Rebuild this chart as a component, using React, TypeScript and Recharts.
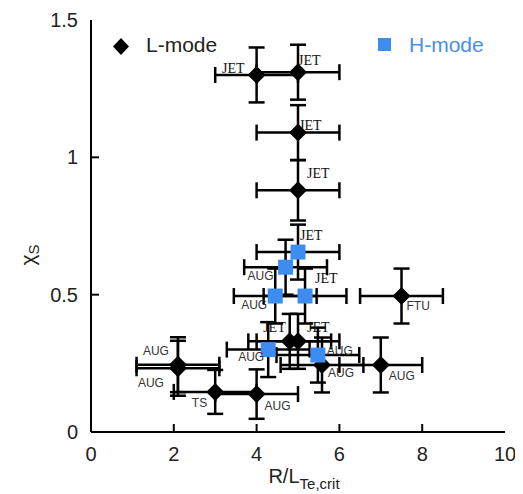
import { ScatterChart, Scatter, XAxis, YAxis, ErrorBar, Label } from 'recharts'

// L-mode points (black diamonds)
const lModeX = [4.0, 5.0, 5.0, 5.0, 4.8, 5.0, 7.5, 7.0, 5.58, 2.1, 2.1, 3.0, 4.0]
const lModeY = [1.3, 1.31, 1.09, 0.88, 0.33, 0.33, 0.495, 0.244, 0.244, 0.245, 0.232, 0.146, 0.138]
const lModeXErr = [1, 1, 1, 1, 1, 1, 1, 1, 1, 1, 1, 1, 1]
const lModeYErr = [0.1, 0.1, 0.1, 0.11, 0.1, 0.1, 0.1, 0.1, 0.1, 0.1, 0.1, 0.08, 0.09]
const lModeLabel = ['JET', 'JET', 'JET', 'JET', 'JET', 'JET', 'FTU', 'AUG', 'AUG', 'AUG', 'AUG', 'TS', 'AUG']

// H-mode points (blue squares)
const hModeX = [5.0, 4.7, 4.45, 5.17, 4.28, 5.48]
const hModeY = [0.655, 0.6, 0.495, 0.495, 0.3, 0.28]
const hModeXErr = [1, 1, 1, 1, 1, 1]
const hModeYErr = [0.1, 0.1, 0.1, 0.1, 0.1, 0.1]
const hModeLabel = ['JET', 'AUG', 'AUG', 'JET', 'AUG', 'AUG']

const xTicks = [0, 2, 4, 6, 8, 10]
const yTicks = [0, 0.5, 1, 1.5]

// label nudges in px from the marker centre (negative dx = right-aligned)
const lModeNudge = [[-12, -2], [0, -7], [1, -3], [9, -12], [-4, -9], [9, -9], [5, 14], [8, 15], [6, 12], [-9, -10], [-14, 19], [-8, 15], [8, 16]]
const hModeNudge = [[2, -12], [-12, 13], [-8, 13], [10, -13], [-4, 11], [9, 0]]

const BLUE = '#3d8cef'
const SANS = '"Liberation Sans", Arial, Helvetica, sans-serif'
const SERIF = '"Liberation Serif", "Times New Roman", serif'

const toRows = (xs: number[], ys: number[], exs: number[], eys: number[], labels: string[]) =>
  xs.map((x, i) => ({ x, y: ys[i], ex: exs[i], ey: eys[i], label: labels[i], i }))

const lModeData = toRows(lModeX, lModeY, lModeXErr, lModeYErr, lModeLabel)
const hModeData = toRows(hModeX, hModeY, hModeXErr, hModeYErr, hModeLabel)

const makeShape = (kind: 'diamond' | 'square', nudges: number[][]) => (props: any) => {
  const { cx, cy, payload } = props
  const [dx, dy] = nudges[payload.i]
  const serif = payload.label === 'JET'
  return (
    <g>
      {kind === 'diamond' ? (
        <polygon points={`${cx},${cy - 9} ${cx + 9},${cy} ${cx},${cy + 9} ${cx - 9},${cy}`} fill="#000" />
      ) : (
        <rect x={cx - 7.5} y={cy - 7.5} width={15} height={15} fill={BLUE} />
      )}
      <text
        x={cx + dx}
        y={cy + dy}
        textAnchor={dx < 0 ? 'end' : 'start'}
        fontFamily={serif ? SERIF : SANS}
        fontSize={serif ? 14 : 12}
        fill={serif ? '#111' : '#333'}
      >
        {payload.label}
      </text>
    </g>
  )
}

const BottomTick = (props: any) => {
  const { x, y, payload } = props
  const v = payload.value
  return (
    <g>
      {v !== 0 && v !== 10 && <line x1={x} y1={y} x2={x} y2={y - 8} stroke="#000" strokeWidth={2} />}
      <text x={x} y={y + 29} textAnchor="middle" fontFamily={SANS} fontSize={20} fill="#222">
        {v}
      </text>
    </g>
  )
}

const LeftTick = (props: any) => {
  const { x, y, payload } = props
  const v = payload.value
  return (
    <g>
      {v !== 0 && v !== 1.5 && <line x1={x} y1={y} x2={x + 8} y2={y} stroke="#000" strokeWidth={2} />}
      <text x={x - 13} y={y + 7} textAnchor="end" fontFamily={SANS} fontSize={20} fill="#222">
        {v}
      </text>
    </g>
  )
}

const TopTick = (props: any) => {
  const { x, y } = props
  return <line x1={x} y1={y} x2={x} y2={y + 8} stroke="#000" strokeWidth={2} />
}

const RightTick = (props: any) => {
  const { x, y } = props
  return <line x1={x} y1={y} x2={x - 8} y2={y} stroke="#000" strokeWidth={2} />
}

const XTitle = (props: any) => {
  const vb = props.viewBox
  return (
    <text x={vb.x + vb.width / 2 + 6} y={vb.y + 51} textAnchor="middle" fontFamily={SANS} fontSize={20} fill="#222">
      <tspan>R/L</tspan>
      <tspan fontSize={15} dy={6}>Te,crit</tspan>
    </text>
  )
}

const YTitle = () => (
  <text transform="translate(27,247) rotate(-90)" textAnchor="middle" fontFamily={SANS} fontSize={21} fill="#222">
    <tspan>χ</tspan>
    <tspan fontSize={15} dy={4}>S</tspan>
  </text>
)

export default function App() {
  return (
    <div style={{ position: 'relative', width: 515, height: 486 }}>
      <ScatterChart width={515} height={486} margin={{ top: 12, right: 18, bottom: 0, left: 0 }}>
        <XAxis
          dataKey="x"
          type="number"
          domain={[0, 10]}
          ticks={xTicks}
          height={62}
          tickSize={0}
          tickMargin={0}
          tickLine={false}
          axisLine={{ stroke: '#000', strokeWidth: 2 }}
          tick={<BottomTick />}
          interval={0}
        >
          <Label content={<XTitle />} />
        </XAxis>
        <XAxis
          xAxisId="top"
          orientation="top"
          type="number"
          domain={[0, 10]}
          ticks={[2, 4, 6, 8]}
          height={0}
          tickSize={0}
          tickMargin={0}
          tickLine={false}
          axisLine={{ stroke: '#000', strokeWidth: 2 }}
          tick={<TopTick />}
          interval={0}
        />
        <YAxis
          dataKey="y"
          type="number"
          domain={[0, 1.5]}
          ticks={yTicks}
          width={83}
          tickSize={0}
          tickMargin={0}
          tickLine={false}
          axisLine={{ stroke: '#000', strokeWidth: 2 }}
          tick={<LeftTick />}
          interval={0}
        >
          <Label content={<YTitle />} />
        </YAxis>
        <YAxis
          yAxisId="right"
          orientation="right"
          type="number"
          domain={[0, 1.5]}
          ticks={[0.5, 1]}
          width={0}
          tickSize={0}
          tickMargin={0}
          tickLine={false}
          axisLine={{ stroke: '#000', strokeWidth: 2 }}
          tick={<RightTick />}
          interval={0}
        />
        <Scatter data={lModeData} shape={makeShape('diamond', lModeNudge)} isAnimationActive={false}>
          <ErrorBar dataKey="ex" direction="x" width={8} stroke="#000" strokeWidth={2.5} />
          <ErrorBar dataKey="ey" direction="y" width={8} stroke="#000" strokeWidth={2.5} />
        </Scatter>
        <Scatter data={hModeData} shape={makeShape('square', hModeNudge)} isAnimationActive={false}>
          <ErrorBar dataKey="ex" direction="x" width={8} stroke="#000" strokeWidth={2.5} />
          <ErrorBar dataKey="ey" direction="y" width={8} stroke="#000" strokeWidth={2.5} />
        </Scatter>
      </ScatterChart>
      <svg style={{ position: 'absolute', left: 0, top: 0, pointerEvents: 'none' }} width={515} height={80}>
        <polygon points="113,30 121,38.5 113,47 105,38.5" fill="#000" />
        <text x={138} y={44} fontFamily={SANS} fontSize={21} fill="#222">L-mode</text>
        <rect x={370} y={30} width={13} height={13} fill={BLUE} />
        <text x={401} y={44} fontFamily={SANS} fontSize={21} fill="#4a90e2">H-mode</text>
      </svg>
    </div>
  )
}
